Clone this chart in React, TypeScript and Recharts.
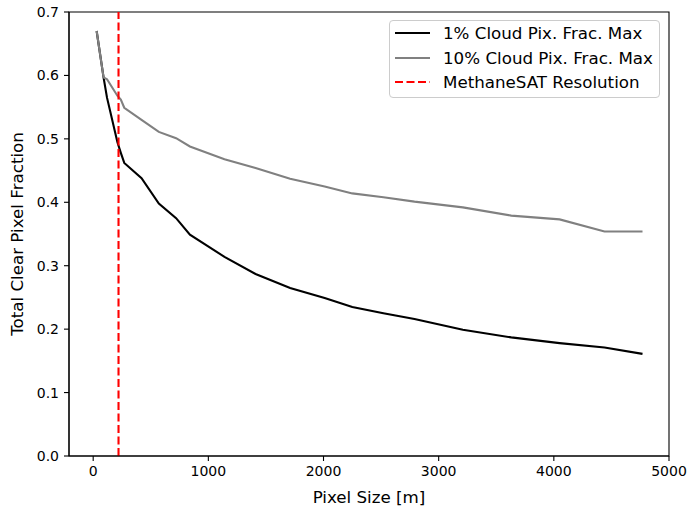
import React from "react";
import {
  LineChart,
  Line,
  XAxis,
  YAxis,
  ReferenceLine,
  ReferenceArea,
  Legend,
  Label,
} from "recharts";

// pixel sizes [m]
const pixelSizes = [30, 90, 120, 210, 240, 270, 420, 570, 720, 840, 1140, 1410, 1710, 2010, 2250, 2520, 2790, 3210, 3630, 4050, 4440, 4770];
// total clear pixel fraction
const cloud1 = [0.670, 0.597, 0.565, 0.495, 0.478, 0.462, 0.438, 0.398, 0.375, 0.349, 0.314, 0.287, 0.265, 0.249, 0.235, 0.225, 0.216, 0.199, 0.187, 0.178, 0.171, 0.161];
const cloud10 = [0.670, 0.597, 0.594, 0.568, 0.562, 0.549, 0.530, 0.511, 0.501, 0.488, 0.468, 0.454, 0.437, 0.425, 0.414, 0.408, 0.401, 0.392, 0.379, 0.373, 0.354, 0.354];
const methaneSatRes = 220;

const xTicks = [0, 1000, 2000, 3000, 4000, 5000];
const yTicks = [0, 0.1, 0.2, 0.3, 0.4, 0.5, 0.6, 0.7];

const seriesNames = ["1% Cloud Pix. Frac. Max", "10% Cloud Pix. Frac. Max", "MethaneSAT Resolution"];

const data = pixelSizes.map((x, i) => ({ x, c1: cloud1[i], c10: cloud10[i] }));

const FONT = "'DejaVu Sans', sans-serif";

const legendItems = [
  { name: seriesNames[0], color: "#000000", dash: undefined },
  { name: seriesNames[1], color: "#808080", dash: undefined },
  { name: seriesNames[2], color: "#ff0000", dash: "8 3.5" },
];

const LegendBox = () => (
  <div
    style={{
      border: "1px solid #cccccc",
      borderRadius: 4,
      background: "rgba(255,255,255,0.8)",
      boxSizing: "border-box",
      width: 271,
      height: 78,
      fontFamily: FONT,
      fontSize: 16.7,
      color: "#000",
    }}
  >
    {legendItems.map((it) => (
      <div key={it.name} style={{ display: "flex", alignItems: "center", height: 24.5 }}>
        <svg width={35} height={10} style={{ marginLeft: 5, flexShrink: 0 }}>
          <line x1={0} x2={35} y1={5} y2={5} stroke={it.color} strokeWidth={2.1} strokeDasharray={it.dash} />
        </svg>
        <span style={{ whiteSpace: "nowrap", marginLeft: 13 }}>{it.name}</span>
      </div>
    ))}
  </div>
);

const App: React.FC = () => {
  return (
    <div style={{ position: "absolute", left: 0, top: 0 }}>
      <LineChart width={690} height={508} data={data} margin={{ top: 12, right: 21, left: 0, bottom: 0 }}>
        <XAxis
          dataKey="x"
          type="number"
          domain={[-210, 5000]}
          ticks={xTicks}
          allowDataOverflow
          height={52}
          tickSize={5}
          tickMargin={5}
          stroke="#000"
          strokeWidth={1.1}
          tick={{ fill: "#000", fontSize: 14, fontFamily: FONT }}
        >
          <Label value="Pixel Size [m]" position="insideBottom" offset={5} style={{ fill: "#000", fontSize: 16.7, fontFamily: FONT }} />
        </XAxis>
        <YAxis
          type="number"
          domain={[0, 0.7]}
          ticks={yTicks}
          allowDataOverflow
          width={69}
          tickSize={5}
          tickMargin={5}
          stroke="#000"
          strokeWidth={1.1}
          tickFormatter={(v: number) => v.toFixed(1)}
          tick={{ fill: "#000", fontSize: 14, fontFamily: FONT }}
        >
          <Label
            value="Total Clear Pixel Fraction"
            angle={-90}
            position="insideLeft"
            offset={17}
            style={{ fill: "#000", fontSize: 16.7, fontFamily: FONT, textAnchor: "middle" }}
          />
        </YAxis>
        <ReferenceArea x1={-210} x2={5000} y1={0} y2={0.7} fill="none" stroke="#000" strokeWidth={1.1} />
        <Line dataKey="c1" name={seriesNames[0]} stroke="#000000" strokeWidth={2.1} dot={false} isAnimationActive={false} />
        <Line dataKey="c10" name={seriesNames[1]} stroke="#808080" strokeWidth={2.1} dot={false} isAnimationActive={false} />
        <ReferenceLine x={methaneSatRes} stroke="#ff0000" strokeWidth={2.1} strokeDasharray="8 3.5" />
        <Legend
          layout="vertical"
          align="center"
          verticalAlign="middle"
          content={() => <LegendBox />}
          wrapperStyle={{ left: 389, top: 20, width: 271, height: 78 }}
        />
      </LineChart>
    </div>
  );
};

export default App;
